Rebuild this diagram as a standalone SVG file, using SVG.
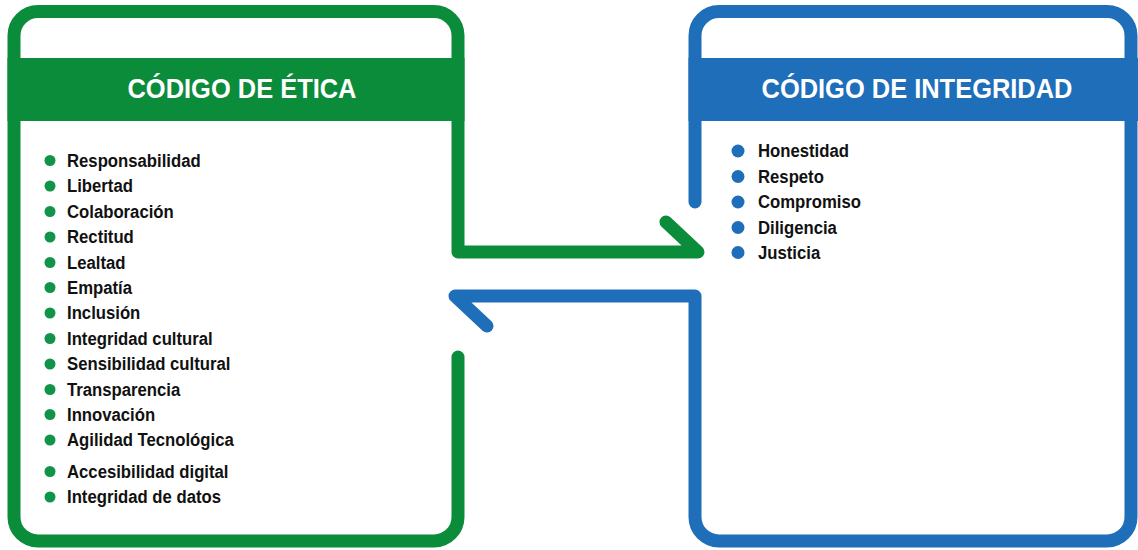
<svg xmlns="http://www.w3.org/2000/svg" width="1138" height="550" viewBox="0 0 1138 550">
<style>
.g{stroke:#0b8c3b}
.b{stroke:#1e6eb9}
.ln{fill:none;stroke-width:13;stroke-linecap:round;stroke-linejoin:round}
.title{font-family:"Liberation Sans",Arial,sans-serif;font-weight:bold;font-size:28px;fill:#ffffff;text-anchor:middle}
.item{font-family:"Liberation Sans",Arial,sans-serif;font-weight:bold;font-size:19px;fill:#111111}
.gb{fill:#12934a}
.bb{fill:#1e6eb9}
</style>
<rect width="1138" height="550" fill="#ffffff"/>
<g id="connectors">
<path class="ln g" d="M458,357 V517 A24,24 0 0 1 434,541 H38 A24,24 0 0 1 14,517 V35.5 A24,24 0 0 1 38,11.5 H434 A24,24 0 0 1 458,35.5 V252 H698 L666,222"/>
<path class="ln b" d="M695,202 V35.5 A24,24 0 0 1 719,11.5 H1107 A24,24 0 0 1 1131,35.5 V517 A24,24 0 0 1 1107,541 H719 A24,24 0 0 1 695,517 V296 H455 L487,326"/>
</g>
<g id="codigo-etica">
<rect x="7.5" y="58" width="457" height="63" fill="#0b8c3b"/>
<text class="title" x="242" y="98" textLength="229" lengthAdjust="spacingAndGlyphs">CÓDIGO DE ÉTICA</text>
<g class="gb">
<circle cx="50" cy="160.5" r="5.5"/>
<circle cx="50" cy="186" r="5.5"/>
<circle cx="50" cy="211.5" r="5.5"/>
<circle cx="50" cy="237" r="5.5"/>
<circle cx="50" cy="262.5" r="5.5"/>
<circle cx="50" cy="287.5" r="5.5"/>
<circle cx="50" cy="313" r="5.5"/>
<circle cx="50" cy="338.5" r="5.5"/>
<circle cx="50" cy="364" r="5.5"/>
<circle cx="50" cy="389.5" r="5.5"/>
<circle cx="50" cy="414.5" r="5.5"/>
<circle cx="50" cy="440" r="5.5"/>
<circle cx="50" cy="471.5" r="5.5"/>
<circle cx="50" cy="497" r="5.5"/>
</g>
<g transform="translate(67,0) scale(0.88,1)">
<text class="item" x="0" y="167">Responsabilidad</text>
<text class="item" x="0" y="192.5">Libertad</text>
<text class="item" x="0" y="218">Colaboración</text>
<text class="item" x="0" y="243.5">Rectitud</text>
<text class="item" x="0" y="269">Lealtad</text>
<text class="item" x="0" y="294">Empatía</text>
<text class="item" x="0" y="319.5">Inclusión</text>
<text class="item" x="0" y="345">Integridad cultural</text>
<text class="item" x="0" y="370.5">Sensibilidad cultural</text>
<text class="item" x="0" y="396">Transparencia</text>
<text class="item" x="0" y="421">Innovación</text>
<text class="item" x="0" y="446.5">Agilidad Tecnológica</text>
<text class="item" x="0" y="478">Accesibilidad digital</text>
<text class="item" x="0" y="503.5">Integridad de datos</text>
</g>
</g>
<g id="codigo-integridad">
<rect x="688.5" y="58" width="449.5" height="63" fill="#1e6eb9"/>
<text class="title" x="917" y="98" textLength="311" lengthAdjust="spacingAndGlyphs">CÓDIGO DE INTEGRIDAD</text>
<g class="bb">
<circle cx="738" cy="151" r="6.5"/>
<circle cx="738" cy="176.5" r="6.5"/>
<circle cx="738" cy="202" r="6.5"/>
<circle cx="738" cy="227.5" r="6.5"/>
<circle cx="738" cy="252.5" r="6.5"/>
</g>
<g transform="translate(758,0) scale(0.88,1)">
<text class="item" x="0" y="157.5">Honestidad</text>
<text class="item" x="0" y="183">Respeto</text>
<text class="item" x="0" y="208.5">Compromiso</text>
<text class="item" x="0" y="234">Diligencia</text>
<text class="item" x="0" y="259">Justicia</text>
</g>
</g>
</svg>
